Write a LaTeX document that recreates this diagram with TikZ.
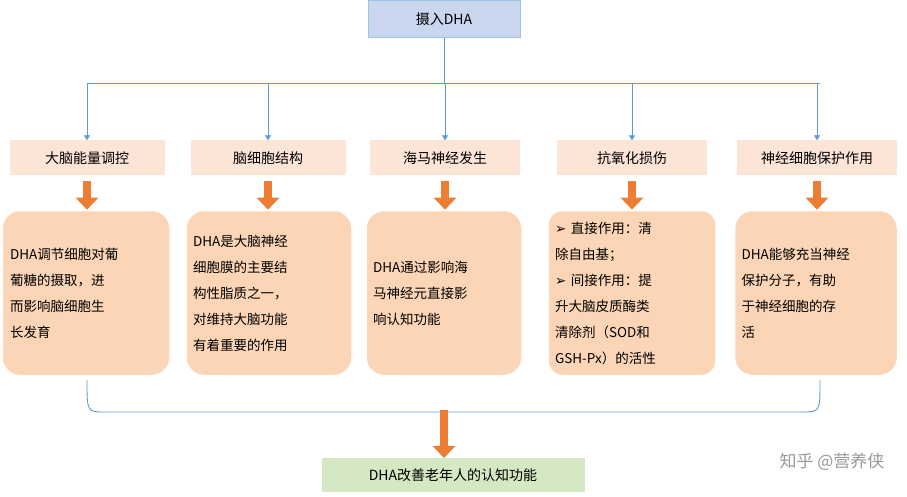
\documentclass[tikz,border=0pt]{standalone}
\usepackage{fontspec}
\setmainfont{Noto Sans CJK SC}
\newfontfamily\djv{DejaVu Sans}
\usetikzlibrary{arrows.meta}
\definecolor{peach}{HTML}{FBD5B5}
\definecolor{hdr}{HTML}{FCE4D6}
\definecolor{org}{HTML}{ED7D31}
\definecolor{ln}{HTML}{5B9BD5}
\definecolor{topf}{HTML}{C9D6EE}
\definecolor{grn}{HTML}{D5E8C4}
\begin{document}
\begin{tikzpicture}[x=1pt,y=-1pt,
 hd/.style={draw=none,fill=hdr,minimum height=35pt,font=\fontsize{14}{16}\selectfont},
 bx/.style={draw=white,line width=1.5pt,fill=peach,rounded corners=18pt,minimum height=165pt,font=\fontsize{13.5}{26}\selectfont,align=left,inner sep=7pt},
 ar/.style={-{Triangle[length=5pt,width=6pt]},draw=ln,line width=0.9pt},
 fat/.style={-{Triangle[length=12pt,width=22pt]},draw=org,line width=8pt}]
\useasboundingbox (0,0) rectangle (907,497);
\node[draw=ln!60,fill=topf,minimum width=152pt,minimum height=37pt,font=\fontsize{14}{16}\selectfont] (top) at (444,19) {摄入DHA};
\foreach \n/\x/\w/\t in {h1/87/155/大脑能量调控,h2/268/155/脑细胞结构,h3/445/150/海马神经发生,h4/632/150/抗氧化损伤,h5/817/160/神经细胞保护作用}
 \node[hd,minimum width=\w pt] (\n) at (\x,158) {\t};
\coordinate (hl) at (87,83); \coordinate (hr) at (820,83);
\draw[draw=ln,line width=0.9pt] (top.south) -- (444,83);
\draw[draw=ln,line width=0.9pt] (hl) -- (hr);
\foreach \n in {h1,h2,h3,h4,h5} \draw[ar] (\n.north |- hl) -- (\n.north);
\node[bx,minimum width=168pt,text width=152pt] (b1) at (86,293) {DHA调节细胞对葡\\葡糖的摄取，进\\而影响脑细胞生\\长发育};
\node[bx,minimum width=166pt,text width=152pt] (b2) at (269,293) {DHA是大脑神经\\细胞膜的主要结\\构性脂质之一，\\对维持大脑功能\\有着重要的作用};
\node[bx,minimum width=156pt,text width=142pt] (b3) at (444,293) {DHA通过影响海\\马神经元直接影\\响认知功能};
\node[bx,minimum width=168pt,text width=154pt,rounded corners=14pt] (b4) at (632,293) {{\djv ➢} 直接作用：清\\除自由基；\\{\djv ➢} 间接作用：提\\升大脑皮质酶类\\清除剂（SOD和\\GSH-Px）的活性};
\node[bx,minimum width=163pt,text width=149pt] (b5) at (816,293) {DHA能够充当神经\\保护分子，有助\\于神经细胞的存\\活};
\foreach \i in {1,...,5} \draw[fat] (h\i.south) ++(0,5) -- ++(0,29);
\node[fill=grn,minimum width=263pt,minimum height=34pt,font=\fontsize{14}{16}\selectfont] (bot) at (453,475) {DHA改善老年人的认知功能};
\draw[draw=ln,line width=0.9pt] (87,380) .. controls (87,412) .. (105,412) -- (802,412) .. controls (820,412) .. (820,380);
\draw[fat] (444,410) -- (444,458);
\node[font=\fontsize{17}{20}\selectfont,text=gray!80] (wm) at (832,462) {知乎 @营养侠};
\end{tikzpicture}
\end{document}
